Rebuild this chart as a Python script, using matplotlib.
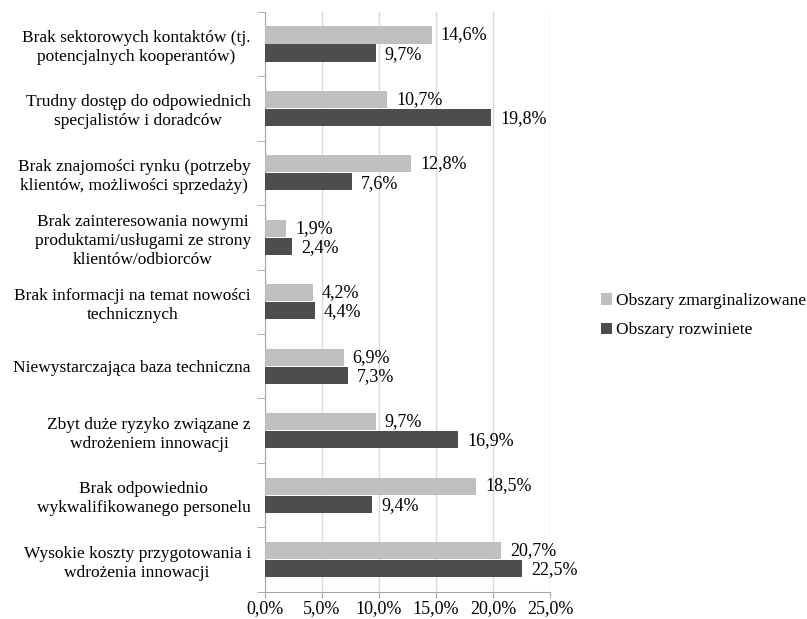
import numpy as np
import matplotlib.pyplot as plt
from matplotlib.ticker import FixedLocator

plt.rcParams['font.family'] = ['Liberation Serif', 'DejaVu Serif']

categories = [
    "Brak sektorowych kontaktów (tj.\npotencjalnych kooperantów)",
    "Trudny dostęp do odpowiednich\nspecjalistów i doradców",
    "Brak znajomości rynku (potrzeby\nklientów, możliwości sprzedaży)",
    "Brak zainteresowania nowymi\nproduktami/usługami ze strony\nklientów/odbiorców",
    "Brak informacji na temat nowości\ntechnicznych",
    "Niewystarczająca baza techniczna",
    "Zbyt duże ryzyko związane z\nwdrożeniem innowacji",
    "Brak odpowiednio\nwykwalifikowanego personelu",
    "Wysokie koszty przygotowania i\nwdrożenia innowacji",
]
zmarginalizowane = [14.6, 10.7, 12.8, 1.9, 4.2, 6.9, 9.7, 18.5, 20.7]
rozwiniete = [9.7, 19.8, 7.6, 2.4, 4.4, 7.3, 16.9, 9.4, 22.5]
xticks = [0, 5, 10, 15, 20, 25]

light = "#bfbfbf"
dark = "#4d4d4d"


def pct(v):
    return f"{v:.1f}%".replace(".", ",")


fig = plt.figure(figsize=(8.07, 6.19), dpi=100)
ax = fig.add_axes([0.328, 0.044, 0.354, 0.937])

n = len(categories)
y = np.arange(n)[::-1].astype(float)
h = 0.265
off = 0.14

ax.barh(y + off, zmarginalizowane, height=h, color=light, label="Obszary zmarginalizowane", zorder=3)
ax.barh(y - off, rozwiniete, height=h, color=dark, label="Obszary rozwiniete", zorder=3)

for yi, v in zip(y, zmarginalizowane):
    ax.text(v + 0.8, yi + off, pct(v), va="center", ha="left", fontsize=13)
for yi, v in zip(y, rozwiniete):
    ax.text(v + 0.8, yi - off - 0.02, pct(v), va="center", ha="left", fontsize=13)

ax.set_xlim(0, 25)
ax.set_ylim(-0.5, n - 0.5)
ax.set_xticks(xticks)
ax.set_xticklabels([pct(t) for t in xticks], fontsize=13)
ax.xaxis.grid(True, color="#d9d9d9", linewidth=1, zorder=0)

ax.set_yticks(y)
ax.set_yticklabels(categories, fontsize=12.5, multialignment="center", linespacing=1.25)
ax.tick_params(axis="y", length=0, pad=10)
ax.yaxis.set_minor_locator(FixedLocator(np.arange(-0.5, n, 1.0)))
ax.tick_params(axis="y", which="minor", length=6, color="#a6a6a6")
ax.tick_params(axis="x", length=4, color="#a6a6a6", pad=2)

for s in ["top", "right"]:
    ax.spines[s].set_visible(False)
ax.spines["left"].set_color("#a6a6a6")
ax.spines["bottom"].set_color("#a6a6a6")

fig.legend(loc="center left", bbox_to_anchor=(0.745, 0.49), frameon=False,
           fontsize=12.6, handlelength=0.6, handleheight=0.6, handletextpad=0.25,
           labelspacing=0.75, borderpad=0, borderaxespad=0)

fig.savefig("out.png", dpi=100)
